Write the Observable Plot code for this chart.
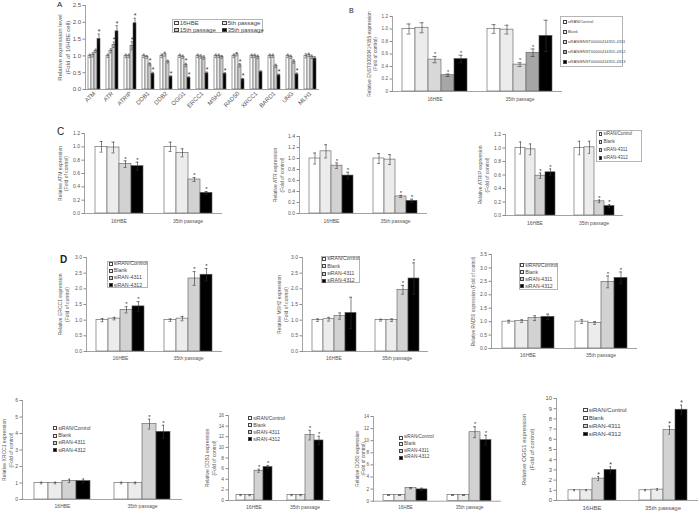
<!DOCTYPE html>
<html><head><meta charset="utf-8">
<script src="https://cdn.jsdelivr.net/npm/d3@7"></script>
<script src="https://cdn.jsdelivr.net/npm/@observablehq/plot@0.6"></script>
<style>
body{margin:0;background:#fff;}
#fig{position:relative;width:700px;height:514px;overflow:hidden;font-family:"Liberation Sans",Arial,sans-serif;color:#333;background:#fff;}
.box{position:absolute;border:0.7px solid #b5b5b5;box-sizing:border-box;}
.it{position:absolute;white-space:nowrap;display:flex;align-items:center;color:#444;font-family:"Liberation Sans",Arial,sans-serif;line-height:1;}
.sw{display:inline-block;border:0.6px solid #444;box-sizing:border-box;margin-right:1.2px;}
.let{position:absolute;font-family:"Liberation Sans",Arial,sans-serif;color:#222;line-height:1;}
</style></head><body><div id="fig"></div>
<script>
// ---------- Panel A ----------
const genesA = ["ATM","ATR","ATRIP","DDB1","DDB2","OGG1","ERCC1","MSH2","RAD50","XRCC1","BARD1","UNG","MLH1"];
const seriesA = ["16HBE","5th passage","15th passage","35th passage"];
const a16HBE = [1.00,1.00,1.00,1.00,1.00,1.00,1.00,1.00,1.00,1.00,1.00,1.00,1.00];
const a5th   = [1.03,1.15,1.00,0.97,1.05,0.97,0.98,1.00,1.05,1.00,1.00,0.97,1.03];
const a15th  = [1.15,1.33,1.30,0.75,0.83,0.73,0.95,0.97,0.72,0.97,0.70,0.83,0.97];
const a35th  = [1.50,1.73,1.97,0.47,0.38,0.35,0.48,0.47,0.30,0.52,0.42,0.45,0.92];
const e16HBE = [0.05,0.05,0.05,0.05,0.05,0.05,0.05,0.05,0.05,0.05,0.05,0.05,0.06];
const e5th   = [0.06,0.06,0.05,0.04,0.06,0.05,0.05,0.05,0.05,0.05,0.05,0.05,0.05];
const e15th  = [0.05,0.08,0.12,0.04,0.04,0.05,0.05,0.04,0.05,0.05,0.05,0.05,0.05];
const e35th  = [0.15,0.17,0.15,0.04,0.03,0.03,0.04,0.03,0.03,0.04,0.04,0.04,0.06];
const s16HBE = [0,0,0,0,0,0,0,0,0,0,0,0,0];
const s5th   = [0,0,0,0,0,0,0,0,0,0,0,0,0];
const s15th  = [0,1,1,1,0,1,0,0,1,0,0,0,0];
const s35th  = [1,1,1,1,1,1,1,1,1,0,1,1,0];
const ticksA = [0,0.5,1.0,1.5,2.0,2.5];

// ---------- Panel B ----------
const groupsB = ["16HBE","35th passage"];
const seriesB = ["siRAN/Control","Blank","siRAN/ENST00000414355-4311","siRAN/ENST00000414355-4312","siRAN/ENST00000414355-4313"];
const valsB = [[1.00,1.00],[1.02,0.99],[0.51,0.43],[0.26,0.62],[0.52,0.89]];
const errsB = [[0.08,0.07],[0.08,0.07],[0.05,0.03],[0.02,0.06],[0.06,0.25]];
const sigB  = [[0,0],[0,0],[1,1],[1,1],[1,0]];
const ticksB = [0,0.2,0.4,0.6,0.8,1.0,1.2];

// ---------- siRAN knock-down panels ----------
const groupsSi = ["16HBE","35th passage"];
const seriesSi = ["siRAN/Control","Blank","siRAN-4311","siRAN-4312"];

const atmVals = [[1.00,1.00],[0.99,0.91],[0.74,0.51],[0.71,0.31]];
const atmErrs = [[0.08,0.07],[0.08,0.06],[0.05,0.03],[0.06,0.02]];
const atmSig  = [[0,0],[0,0],[1,1],[1,1]];

const atrVals = [[1.00,1.00],[1.13,0.98],[0.87,0.31],[0.69,0.23]];
const atrErrs = [[0.10,0.09],[0.12,0.09],[0.05,0.02],[0.06,0.03]];
const atrSig  = [[0,0],[0,0],[1,1],[1,1]];

const atripVals = [[1.00,1.00],[0.98,1.01],[0.59,0.21],[0.64,0.14]];
const atripErrs = [[0.09,0.10],[0.08,0.09],[0.04,0.02],[0.05,0.02]];
const atripSig  = [[0,0],[0,0],[1,1],[1,1]];

const ercc1Vals = [[1.00,1.00],[1.05,1.05],[1.33,2.33],[1.44,2.45]];
const ercc1Errs = [[0.05,0.04],[0.04,0.07],[0.10,0.22],[0.15,0.20]];
const ercc1Sig  = [[0,0],[0,0],[1,1],[1,1]];

const msh2Vals = [[1.00,1.00],[1.03,1.00],[1.13,1.97],[1.23,2.33]];
const msh2Errs = [[0.04,0.03],[0.06,0.04],[0.10,0.14],[0.50,0.50]];
const msh2Sig  = [[0,0],[0,0],[0,1],[0,1]];

const rad50Vals = [[1.00,1.00],[1.02,0.95],[1.13,2.48],[1.18,2.63]];
const rad50Errs = [[0.05,0.07],[0.05,0.05],[0.09,0.22],[0.10,0.22]];
const rad50Sig  = [[0,0],[0,0],[0,1],[0,1]];

const xrcc1Vals = [[1.00,1.00],[1.00,1.00],[1.13,4.57],[1.12,4.10]];
const xrcc1Errs = [[0.05,0.05],[0.05,0.05],[0.10,0.30],[0.12,0.40]];
const xrcc1Sig  = [[0,0],[0,0],[0,1],[0,1]];

const ddb1Vals = [[1.00,1.00],[1.00,1.00],[5.60,12.30],[6.30,11.30]];
const ddb1Errs = [[0.10,0.10],[0.10,0.10],[0.30,0.90],[0.30,0.80]];
const ddb1Sig  = [[0,0],[0,0],[1,1],[1,1]];

const ddb2Vals = [[1.00,1.00],[1.00,1.00],[2.15,11.40],[1.95,10.10]];
const ddb2Errs = [[0.05,0.05],[0.05,0.05],[0.10,0.90],[0.20,0.80]];
const ddb2Sig  = [[0,0],[0,0],[0,1],[0,1]];

const ogg1Vals = [[1.00,1.00],[1.00,1.07],[2.15,6.90],[3.00,8.90]];
const ogg1Errs = [[0.05,0.05],[0.05,0.08],[0.20,0.40],[0.30,0.45]];
const ogg1Sig  = [[0,0],[0,0],[1,1],[1,1]];

const ticks12 = [0,0.2,0.4,0.6,0.8,1.0,1.2];
const ticks14 = [0,0.2,0.4,0.6,0.8,1.0,1.2,1.4];
const ticks30 = [0,0.5,1.0,1.5,2.0,2.5,3.0];
const ticks35 = [0,0.5,1.0,1.5,2.0,2.5,3.0,3.5];
const ticks6  = [0,1,2,3,4,5,6];
const ticks16 = [0,2,4,6,8,10,12,14,16];
const ticks14i = [0,2,4,6,8,10,12,14];
const ticks10 = [0,1,2,3,4,5,6,7,8,9,10];

// ---------- styling ----------
const fillsA  = ["#ffffff","#e9e9e9","#cdcdcd","#000000"];
const fillsB  = ["#ffffff","#ececec","#d8d8d8","#a6a6a6","#000000"];
const fillsSi = ["#ffffff","#ececec","#d2d2d2","#000000"];

const fig = document.getElementById("fig");
const f1 = d => d.toFixed(1);
const fB = d => d === 0 ? "0" : d.toFixed(1);
const fI = d => String(d);

function barPanel(p) {
  const rows = [];
  p.series.forEach((s, i) => p.groups.forEach((g, j) =>
    rows.push({g, s, v: p.values[i][j], e: p.errors[i][j], sig: p.sig[i][j]})));
  const mL = 40, mR = 6, mT = 10, mB = 26;
  const W = p.x1 - p.x0, H = p.y0 - p.yTop;
  const fs = p.fs;
  const top = p.ticks[p.ticks.length - 1];
  const cap = p.cap;
  const svg = Plot.plot({
    width: mL + W + mR, height: mT + H + mB,
    marginLeft: mL, marginRight: mR, marginTop: mT, marginBottom: mB,
    fx: {domain: p.groups, paddingInner: 0, paddingOuter: 0, label: null},
    x: {domain: p.series, paddingInner: 0, paddingOuter: p.pad, axis: null},
    y: {domain: [0, top]},
    color: {domain: p.series, range: p.fills},
    style: {background: "transparent", fontFamily: "Liberation Sans, Arial, sans-serif", fontSize: fs + "px", overflow: "visible", color: "#444"},
    marks: [
      Plot.barY(rows, {fx: "g", x: "s", y: "v", fill: "s", stroke: "#5a5a5a", strokeWidth: 0.6}),
      Plot.ruleX(rows, {fx: "g", x: "s", y1: d => d.v - d.e, y2: d => d.v + d.e, stroke: "#333", strokeWidth: 0.6}),
      Plot.tickY(rows, {fx: "g", x: "s", y: d => d.v + d.e, stroke: "#333", strokeWidth: 0.6, insetLeft: cap, insetRight: cap}),
      Plot.tickY(rows, {fx: "g", x: "s", y: d => d.v - d.e, stroke: "#333", strokeWidth: 0.6, insetLeft: cap, insetRight: cap}),
      Plot.text(rows.filter(d => d.sig), {fx: "g", x: "s", y: d => d.v + d.e, text: () => "*", dy: -2.2, fontSize: fs + 1, fill: "#333"}),
      Plot.ruleY([0], {stroke: "#8a8a8a", strokeWidth: 0.8}),
      Plot.frame({anchor: "left", facetAnchor: "left", stroke: "#8a8a8a", strokeWidth: 0.8}),
      Plot.axisY({ticks: p.ticks, tickFormat: p.fmt, tickSize: 2.5, tickPadding: 2, fontSize: fs, label: null, stroke: "#8a8a8a", fill: "#555"}),
      Plot.axisFx({anchor: "bottom", tickSize: 0, tickPadding: p.labPad, fontSize: p.catFs, label: null, tickRotate: p.rotate || 0, fill: "#555"}),
      Plot.text([p.title], {fx: () => p.groups[0], frameAnchor: "left", textAnchor: "middle", rotate: -90, dx: p.titleX - p.x0, fontSize: p.titleFs, lineHeight: 1.25, fill: "#555"})
    ]
  });
  svg.style.position = "absolute";
  svg.style.left = (p.x0 - mL) + "px";
  svg.style.top = (p.yTop - mT) + "px";
  svg.style.maxWidth = "none";
  svg.style.background = "transparent";
  fig.appendChild(svg);
}

function legend(l) {
  if (l.box) {
    const b = document.createElement("div");
    b.className = "box";
    Object.assign(b.style, {left: l.box[0] + "px", top: l.box[1] + "px", width: l.box[2] + "px", height: l.box[3] + "px"});
    fig.appendChild(b);
  }
  const cols = l.cols || 1;
  l.names.forEach((name, i) => {
    const r = Math.floor(i / cols), c = i % cols;
    const it = document.createElement("div");
    it.className = "it";
    const cy = l.cy0 + r * l.step;
    const h = l.fs + 2;
    Object.assign(it.style, {left: (l.x + c * (l.colW || 0)) + "px", top: (cy - h / 2) + "px", height: h + "px", fontSize: l.fs + "px"});
    const sw = document.createElement("span");
    sw.className = "sw";
    const s = l.sw;
    Object.assign(sw.style, {width: s + "px", height: s + "px", background: l.fills[i]});
    it.appendChild(sw);
    it.appendChild(document.createTextNode(name));
    fig.appendChild(it);
  });
}

function letter(t, x, y, fs, bold) {
  const d = document.createElement("div");
  d.className = "let";
  d.textContent = t;
  Object.assign(d.style, {left: x + "px", top: y + "px", fontSize: fs + "px", fontWeight: bold ? "bold" : "normal"});
  fig.appendChild(d);
}

// Panel A
barPanel({groups: genesA, series: seriesA, values: [a16HBE, a5th, a15th, a35th], errors: [e16HBE, e5th, e15th, e35th], sig: [s16HBE, s5th, s15th, s35th],
  fills: fillsA, ticks: ticksA, fmt: f1, x0: 83, x1: 321, yTop: 5, y0: 89, pad: 0.3, cap: 0.6, fs: 6, catFs: 6, labPad: 3, rotate: -45,
  title: "Relative expression level\n(Fold of 16HBE cell)", titleX: 61, titleFs: 6});
legend({box: [172, 19, 91, 14], names: seriesA, fills: fillsA, x: 174, cy0: 23, step: 7, fs: 6, sw: 4.5, cols: 2, colW: 48});
letter("A", 57, 1, 8);

// Panel B
barPanel({groups: groupsB, series: seriesB, values: valsB, errors: errsB, sig: sigB,
  fills: fillsB, ticks: ticksB, fmt: fB, x0: 392, x1: 562, yTop: 16, y0: 91, pad: 0.67, cap: 4.5, fs: 4.6, catFs: 4.8, labPad: 6,
  title: "Relative ENST00000414355 expression\n(Fold of control)", titleX: 372, titleFs: 4.8});
legend({box: [560, 16, 63, 51], names: seriesB, fills: fillsB, x: 563, cy0: 22, step: 10, fs: 4, sw: 3.5});
letter("B", 349, 7, 7);

// Panel C
barPanel({groups: groupsSi, series: seriesSi, values: atmVals, errors: atmErrs, sig: atmSig,
  fills: fillsSi, ticks: ticks12, fmt: f1, x0: 83, x1: 222, yTop: 133, y0: 213, pad: 0.74, cap: 4.5, fs: 5, catFs: 5, labPad: 6,
  title: "Relative ATM expression\n(Fold of control)", titleX: 61.5, titleFs: 5});
barPanel({groups: groupsSi, series: seriesSi, values: atrVals, errors: atrErrs, sig: atrSig,
  fills: fillsSi, ticks: ticks14, fmt: f1, x0: 299, x1: 427, yTop: 136, y0: 213, pad: 0.76, cap: 4, fs: 5, catFs: 5, labPad: 6,
  title: "Relative ATR expression\n(Fold of control)", titleX: 278, titleFs: 5});
barPanel({groups: groupsSi, series: seriesSi, values: atripVals, errors: atripErrs, sig: atripSig,
  fills: fillsSi, ticks: ticks12, fmt: f1, x0: 505, x1: 623, yTop: 134, y0: 215, pad: 0.74, cap: 3.8, fs: 5, catFs: 5, labPad: 6,
  title: "Relative ATRIP expression\n(Fold of control)", titleX: 483, titleFs: 5});
legend({box: [596, 130, 46, 32], names: seriesSi, fills: fillsSi, x: 598.5, cy0: 134.3, step: 7.9, fs: 4.5, sw: 3.8});
letter("C", 57, 127, 10);

// Panel D
barPanel({groups: groupsSi, series: seriesSi, values: ercc1Vals, errors: ercc1Errs, sig: ercc1Sig,
  fills: fillsSi, ticks: ticks30, fmt: f1, x0: 86, x1: 222, yTop: 257, y0: 351, pad: 0.72, cap: 4.5, fs: 5, catFs: 5, labPad: 4.5,
  title: "Relative ERCC1 expression\n(Fold of control)", titleX: 63, titleFs: 5});
legend({box: [107, 261, 41, 27], names: seriesSi, fills: fillsSi, x: 108.5, cy0: 263.7, step: 7.2, fs: 5.3, sw: 4});
barPanel({groups: groupsSi, series: seriesSi, values: msh2Vals, errors: msh2Errs, sig: msh2Sig,
  fills: fillsSi, ticks: ticks30, fmt: f1, x0: 302, x1: 428, yTop: 257, y0: 351, pad: 0.74, cap: 4, fs: 5, catFs: 5, labPad: 4.5,
  title: "Relative MSH2 expression\n(Fold of control)", titleX: 282, titleFs: 5});
legend({box: [321, 256, 39, 27], names: seriesSi, fills: fillsSi, x: 322, cy0: 259, step: 7.3, fs: 5.1, sw: 4});
barPanel({groups: groupsSi, series: seriesSi, values: rad50Vals, errors: rad50Errs, sig: rad50Sig,
  fills: fillsSi, ticks: ticks35, fmt: f1, x0: 491, x1: 637, yTop: 254, y0: 348, pad: 0.7, cap: 5, fs: 5, catFs: 5, labPad: 4.5,
  title: "Relative RAD50 expression (Fold of control)", titleX: 473, titleFs: 4.6});
legend({box: [519, 263, 39, 27], names: seriesSi, fills: fillsSi, x: 520, cy0: 265.5, step: 7, fs: 5.1, sw: 4});
letter("D", 60, 255, 10, true);

// Bottom row
barPanel({groups: groupsSi, series: seriesSi, values: xrcc1Vals, errors: xrcc1Errs, sig: xrcc1Sig,
  fills: fillsSi, ticks: ticks6, fmt: fI, x0: 22, x1: 182, yTop: 400, y0: 499, pad: 0.68, cap: 5.8, fs: 5, catFs: 5, labPad: 4.5,
  title: "Relative XRCC1 expression\n(Fold of control)", titleX: 7, titleFs: 5});
legend({names: seriesSi, fills: fillsSi, x: 53, cy0: 428.3, step: 7.3, fs: 5.1, sw: 4});
barPanel({groups: groupsSi, series: seriesSi, values: ddb1Vals, errors: ddb1Errs, sig: ddb1Sig,
  fills: fillsSi, ticks: ticks16, fmt: fI, x0: 228, x1: 330, yTop: 415, y0: 500, pad: 0.72, cap: 3.3, fs: 4.8, catFs: 5, labPad: 5,
  title: "Relative DDB1 expression\n(Fold of control)", titleX: 210, titleFs: 5});
legend({names: seriesSi, fills: fillsSi, x: 248, cy0: 418, step: 7, fs: 5, sw: 4});
barPanel({groups: groupsSi, series: seriesSi, values: ddb2Vals, errors: ddb2Errs, sig: ddb2Sig,
  fills: fillsSi, ticks: ticks14i, fmt: fI, x0: 373, x1: 501, yTop: 416, y0: 500.7, pad: 0.8, cap: 4, fs: 4.6, catFs: 4.6, labPad: 5,
  title: "Relative DDB2 expression\n(Fold of control)", titleX: 360, titleFs: 4.8});
legend({names: seriesSi, fills: fillsSi, x: 399, cy0: 437.7, step: 6.7, fs: 4.7, sw: 3.8});
barPanel({groups: groupsSi, series: seriesSi, values: ogg1Vals, errors: ogg1Errs, sig: ogg1Sig,
  fills: fillsSi, ticks: ticks10, fmt: fI, x0: 555, x1: 698, yTop: 398, y0: 500, pad: 0.75, cap: 5, fs: 5.8, catFs: 6, labPad: 5,
  title: "Relative OGG1 expression\n(Fold of control)", titleX: 526, titleFs: 6});
legend({names: seriesSi, fills: fillsSi, x: 583, cy0: 410, step: 8, fs: 6, sw: 4.5});
</script>
</body></html>
